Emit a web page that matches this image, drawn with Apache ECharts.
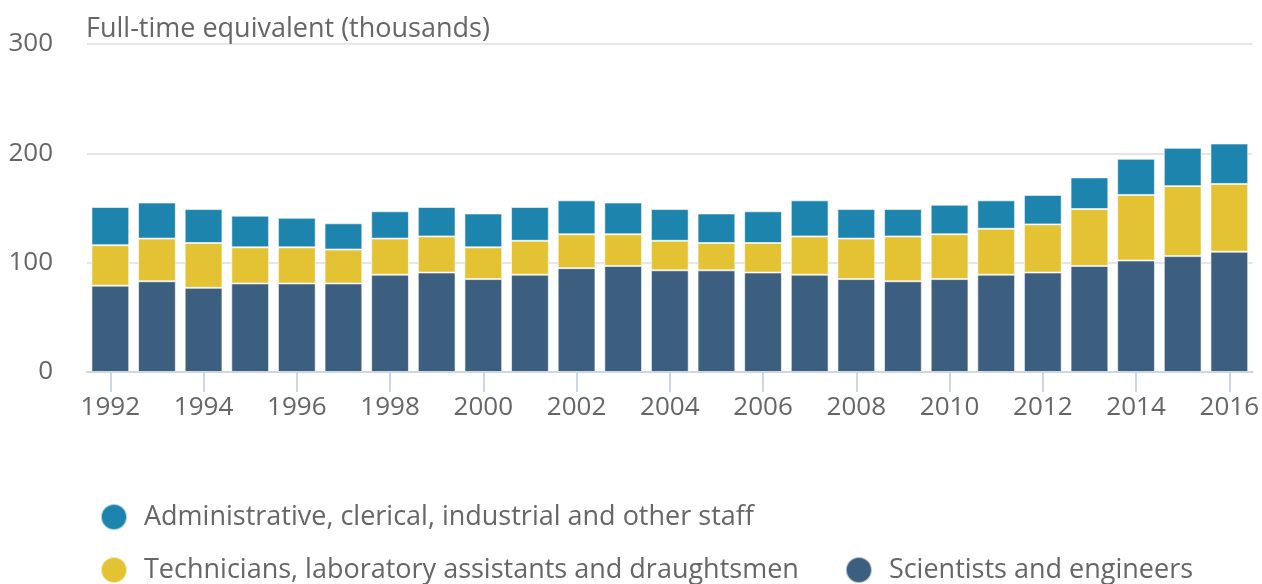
<!DOCTYPE html>
<html>
<head>
<meta charset="utf-8">
<script src="https://cdn.jsdelivr.net/npm/echarts@6/dist/echarts.min.js"></script>
<style>
html,body{margin:0;padding:0;background:#fff;}
#chart{width:1262px;height:584px;}
</style>
</head>
<body>
<div id="chart"></div>
<script>
const years = ['1992','1993','1994','1995','1996','1997','1998','1999','2000','2001','2002','2003','2004','2005','2006','2007','2008','2009','2010','2011','2012','2013','2014','2015','2016'];
const scientists = [79, 83, 77, 81, 81, 81, 89, 91, 85, 89, 95, 97, 93, 93, 91, 89, 85, 83, 85, 89, 91, 97, 102, 106, 110];
const technicians = [37, 39, 41, 33, 33, 31, 33, 33, 29, 31, 31, 29, 27, 25, 27, 35, 37, 41, 41, 42, 44, 52, 60, 64, 62];
const admin = [35, 33, 31, 29, 27, 24, 25, 27, 31, 31, 31, 29, 29, 27, 29, 33, 27, 25, 27, 26, 27, 29, 33, 35, 37];
const yTicks = [0, 100, 200, 300];

const names = {
  admin: 'Administrative, clerical, industrial and other staff',
  tech: 'Technicians, laboratory assistants and draughtsmen',
  sci: 'Scientists and engineers'
};
const FONT = '"Open Sans", "Noto Sans", sans-serif';
const TXT = '#666666';

const chart = echarts.init(document.getElementById('chart'), null, {renderer: 'canvas'});
const legendCommon = {
  orient: 'horizontal',
  icon: 'circle',
  itemWidth: 26,
  itemHeight: 26,
  itemGap: 46,
  padding: 0,
  selectedMode: false,
  textStyle: {fontFamily: FONT, fontSize: 27, color: TXT, padding: [8, 0, 0, 12], lineHeight: 26}
};
chart.setOption({
  animation: false,
  title: {
    text: 'Full-time equivalent (thousands)',
    left: 81,
    top: 11,
    textStyle: {fontFamily: FONT, fontSize: 27, fontWeight: 'normal', color: TXT}
  },
  legend: [
    Object.assign({}, legendCommon, {left: 100, top: 500, data: [names.admin]}),
    Object.assign({}, legendCommon, {left: 100, top: 553, data: [names.tech, names.sci]})
  ],
  grid: {left: 87, right: 7, top: 44, bottom: 212, containLabel: false},
  xAxis: {
    type: 'category',
    data: years,
    axisLine: {lineStyle: {color: '#ccd6eb', width: 2}},
    axisTick: {show: true, interval: 1, alignWithLabel: true, length: 20, lineStyle: {color: '#ccd6eb', width: 2}},
    axisLabel: {interval: 1, margin: 23, fontFamily: FONT, fontSize: 26, color: TXT}
  },
  yAxis: {
    type: 'value',
    min: yTicks[0],
    max: yTicks[yTicks.length - 1],
    interval: 100,
    axisLine: {show: false},
    axisTick: {show: false},
    splitLine: {lineStyle: {color: '#e6e6e6', width: 2}},
    axisLabel: {margin: 34, fontFamily: FONT, fontSize: 26, color: TXT, padding: [5, 0, 0, 0]}
  },
  series: [
    {name: names.sci, type: 'bar', stack: 'all', data: scientists, barCategoryGap: '19%',
     itemStyle: {color: '#3c5e7f', borderColor: 'rgba(255,255,255,0.6)', borderWidth: 1}},
    {name: names.tech, type: 'bar', stack: 'all', data: technicians,
     itemStyle: {color: '#e3c234', borderColor: 'rgba(255,255,255,0.6)', borderWidth: 1}},
    {name: names.admin, type: 'bar', stack: 'all', data: admin,
     itemStyle: {color: '#1c84ad', borderColor: 'rgba(255,255,255,0.6)', borderWidth: 1}}
  ]
});
</script>
</body>
</html>
